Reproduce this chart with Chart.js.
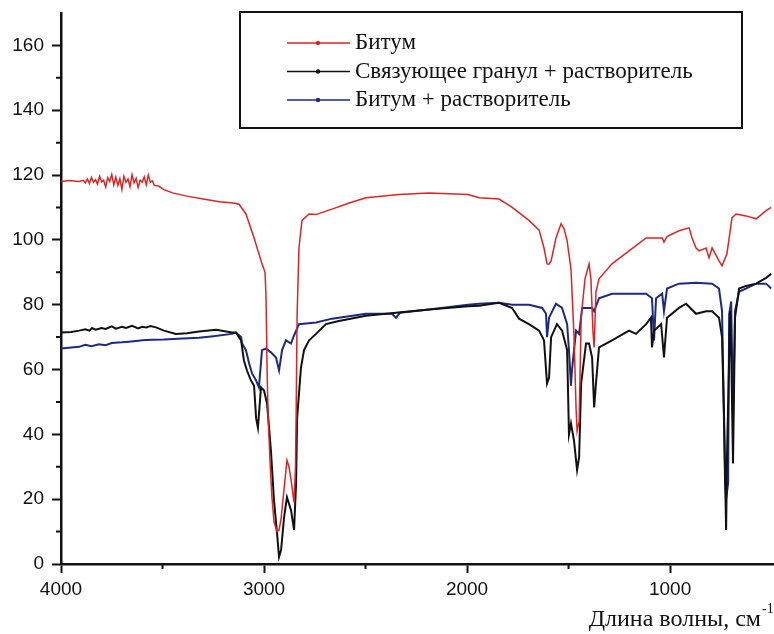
<!DOCTYPE html>
<html lang="ru">
<head>
    <meta charset="UTF-8">
    <title>ИК-спектры</title>
    <script src="https://cdn.jsdelivr.net/npm/chart.js"></script>
    <style>
        html, body { margin: 0; padding: 0; background: #fff; }
        #wrap { width: 774px; height: 634px; }
    </style>
</head>
<body>
    <div id="wrap"><canvas id="spectrum"></canvas></div>
    <script>
        // Битум
        const bitumenWave = [4000,3960,3911,3890,3880,3870,3860,3850,3840,3830,
            3820,3810,3800,3790,3780,3770,3760,3750,3740,3730,
            3720,3710,3700,3690,3680,3670,3660,3650,3640,3630,
            3620,3610,3600,3590,3580,3570,3560,3550,3540,3520,
            3493,3450,3380,3300,3220,3150,3123,3089,
            3049,3010,2995,2990,2985,2980,2970,2961,2951,2936,
            2926,2916,2900,2887,2877,2867,2852,2845,2842,2837,
            2828,2813,2778,2744,2665,2581,2498,2335,2187,1995,
            1941,1842,1778,1695,1645,1621,1606,1596,1586,1562,
            1537,1522,1507,1488,1473,1463,1458,1448,1438,1419,
            1399,1390,1380,1374,1365,1350,1286,1202,1118,1039,
            1030,1015,956,906,892,872,857,823,808,793,
            759,744,720,695,675,626,576,527,502];
        const bitumenT = [118,118.3,118,118.4,117.6,118.8,117.4,119.3,117.8,118.6,
            117.2,119.6,117.9,118.4,116.3,119.2,118,120.2,117,119.4,
            116.8,118.9,115.6,119.6,117.8,118.8,116.4,120.1,117.6,119,
            116.2,118.4,117.8,119.4,117,120,117.8,118.2,116.8,116.6,
            115.5,114.5,113.5,112.6,111.8,111.4,111,108,
            100.6,92.6,90,82,60,46,31,20.6,13,10,
            10.5,14,24,32,30,26,19,30,45,77,
            97.5,106,108,107.8,109.5,111.4,113,114,114.5,114,
            113,112.6,110,106,103,97.5,92.6,92.5,93.5,100.6,
            105,103.4,99.7,91,70,48,41,44,76,88,
            92.6,88,72,66.8,84,88,92.6,96.6,100.6,100.6,
            99.3,101,102.8,103.7,100.6,97.5,96.6,97.5,94.5,97.5,
            93.5,92,95.7,106.8,108,107.4,106.5,109,110];

        // Связующее гранул + растворитель
        const binderWave = [4000,3950,3911,3880,3860,3847,3830,3800,3780,3750,
            3730,3700,3680,3650,3620,3601,3580,3560,3532,3493,
            3434,3380,3320,3236,3158,3138,3113,3099,3084,3064,
            3049,3039,3030,3015,3000,2985,2966,2951,2936,2926,
            2916,2901,2887,2867,2852,2842,2837,2818,2803,2778,
            2744,2695,2631,2498,2350,2187,1995,1941,1842,1778,
            1744,1695,1645,1621,1606,1596,1586,1557,1532,1507,
            1498,1488,1473,1458,1448,1438,1414,1399,1384,1374,
            1365,1350,1286,1202,1168,1118,1094,1089,1079,1044,
            1030,1015,956,921,872,823,793,759,744,734,
            724,719,704,699,690,680,660,626,576,527,
            502];
        const binderT = [71.4,71.6,72,72.4,72,72.8,72.3,72.8,72.5,73.3,
            72.6,73.2,72.8,73.5,72.7,73.2,73,73.4,73,72,
            71,71.2,71.7,72.3,71.4,71.4,69,62.8,59.7,56.6,
            55,45,42,54.5,53.5,49.5,35,19.7,9.5,2.2,
            4.3,14.5,20.6,16.6,10.5,25,45,60.6,66,69,
            71,74,75,76.6,77.5,78.5,79.5,79.7,80.6,79,
            75.7,74,72,69,55.7,57.5,70,74,72,66,
            40,43.4,38,29,33,55.7,68,68,63.7,48.3,
            55.7,66.8,69,72,71,74,76,66.8,72,74,
            63.7,76,79,80.3,77.2,78,78,76,70,45,
            10.5,35,78,66,31,76,85,85.8,86.5,88.3,
            89.5];

        // Битум + растворитель
        const solventWave = [4000,3950,3911,3880,3850,3813,3780,3750,3700,3665,
            3630,3600,3550,3493,3400,3320,3250,3158,3138,3113,
            3108,3089,3074,3059,3039,3025,3010,2990,2966,2941,
            2926,2911,2892,2867,2852,2828,2744,2665,2498,2370,
            2350,2330,2187,1995,1941,1842,1778,1695,1630,1611,
            1606,1596,1562,1532,1507,1498,1488,1483,1463,1448,
            1433,1384,1374,1350,1286,1202,1118,1089,1079,1069,
            1039,1030,1015,956,872,793,759,744,729,724,
            714,709,699,690,680,660,576,527,502];
        const solventT = [66.5,66.8,67,67.6,67.2,67.8,67.5,68.2,68.4,68.6,
            68.8,69,69.2,69.3,69.6,69.8,70.3,71,71.4,70,
            68,66,62,58.8,56.6,54.5,66,66.5,65.3,63.7,
            59.7,66,69,68,70.5,74,74.5,75.7,77.2,77.2,
            76,77.5,78.5,80,80.3,80.6,80,80,79,77.2,
            70,76,80.3,79,74,66,55,60,72,71,
            79,79,78,82,83.4,83.4,83.4,82,69,82,
            83.4,78,85,86.5,86.8,86.5,85,78,25,20,
            25,77,81,45,78,84,86.5,86.5,85];

        const seriesNames = ['Битум', 'Связующее гранул + растворитель', 'Битум + растворитель'];
        const seriesColors = ['#dc2424', '#111111', '#1c2a80'];

        const xMajorTicks = [4000, 3000, 2000, 1000];
        const xMinorTicks = [3500, 2500, 1500];
        const yMajorTicks = [0, 20, 40, 60, 80, 100, 120, 140, 160];
        const yMinorTicks = [10, 30, 50, 70, 90, 110, 130, 150];

        const axisTitle = 'Длина волны, см';
        const axisTitleSup = '-1';

        function toPoints(xs, ys){
            return xs.map((w,i)=>({x: w, y: ys[i]}));
        }

        const decor = {
            id: 'decor',
            afterDraw(chart){
                const {ctx, chartArea} = chart;
                const x = chart.scales.x, y = chart.scales.y;
                ctx.save();
                ctx.strokeStyle = '#111';
                ctx.lineWidth = 2;
                // minor ticks
                ctx.beginPath();
                xMinorTicks.forEach(v=>{
                    const px = x.getPixelForValue(v);
                    ctx.moveTo(px, chartArea.bottom);
                    ctx.lineTo(px, chartArea.bottom + 5);
                });
                yMinorTicks.forEach(v=>{
                    const py = y.getPixelForValue(v);
                    ctx.moveTo(chartArea.left, py);
                    ctx.lineTo(chartArea.left - 5, py);
                });
                ctx.stroke();

                // legend box
                ctx.fillStyle = '#fff';
                ctx.fillRect(240, 12, 502, 116);
                ctx.lineWidth = 2;
                ctx.strokeRect(240, 12, 502, 116);
                ctx.font = '23px "Liberation Serif", "Times New Roman", serif';
                ctx.textBaseline = 'middle';
                chart.data.datasets.forEach((ds,i)=>{
                    const yy = 43 + i * 28.5;
                    ctx.strokeStyle = ds.borderColor;
                    ctx.lineWidth = 1.5;
                    ctx.beginPath();
                    ctx.moveTo(287, yy);
                    ctx.lineTo(350, yy);
                    ctx.stroke();
                    ctx.fillStyle = ds.borderColor;
                    ctx.beginPath();
                    ctx.arc(318, yy, 2.2, 0, Math.PI * 2);
                    ctx.fill();
                    ctx.fillStyle = '#111';
                    ctx.fillText(ds.label, 355, yy);
                });

                // axis title
                ctx.fillStyle = '#111';
                ctx.textBaseline = 'alphabetic';
                ctx.textAlign = 'right';
                ctx.font = '24px "Liberation Serif", "Times New Roman", serif';
                ctx.fillText(axisTitle, 761, 626);
                ctx.textAlign = 'left';
                ctx.font = '14px "Liberation Serif", "Times New Roman", serif';
                ctx.fillText(axisTitleSup, 762, 613);
                ctx.restore();
            }
        };

        const tickFont = {family: '"Liberation Sans", Arial, sans-serif', size: 19};

        new Chart(document.getElementById('spectrum'), {
            type: 'line',
            data: {
                datasets: [
                    {label: seriesNames[0], data: toPoints(bitumenWave, bitumenT), borderColor: seriesColors[0], borderWidth: 1.5},
                    {label: seriesNames[1], data: toPoints(binderWave, binderT), borderColor: seriesColors[1], borderWidth: 2},
                    {label: seriesNames[2], data: toPoints(solventWave, solventT), borderColor: seriesColors[2], borderWidth: 2}
                ]
            },
            options: {
                responsive: true,
                maintainAspectRatio: false,
                animation: false,
                elements: {
                    point: {radius: 0},
                    line: {tension: 0}
                },
                layout: {padding: {top: 13, right: 1, left: 0, bottom: 0}},
                plugins: {
                    legend: {display: false},
                    tooltip: {enabled: false}
                },
                scales: {
                    x: {
                        type: 'linear',
                        reverse: true,
                        min: 493,
                        max: 4000,
                        afterBuildTicks: s => { s.ticks = xMajorTicks.map(v=>({value: v})); },
                        afterFit: s => { s.height = 70; s.paddingLeft = 0; s.paddingRight = 0; },
                        grid: {drawOnChartArea: false, drawTicks: true, tickLength: 9, tickWidth: 2, tickColor: '#111'},
                        border: {display: true, color: '#111', width: 2.5},
                        ticks: {color: '#111', font: tickFont, padding: 5, maxRotation: 0, autoSkip: false,
                            callback: v => String(v)}
                    },
                    y: {
                        min: 0,
                        max: 170,
                        afterBuildTicks: s => { s.ticks = yMajorTicks.map(v=>({value: v})); },
                        afterFit: s => { s.width = 61; s.paddingTop = 0; s.paddingBottom = 0; },
                        grid: {drawOnChartArea: false, drawTicks: true, tickLength: 9, tickWidth: 2, tickColor: '#111'},
                        border: {display: true, color: '#111', width: 2.5},
                        ticks: {color: '#111', font: tickFont, padding: 8, callback: v => String(v)}
                    }
                }
            },
            plugins: [decor]
        });
    </script>
</body>
</html>
